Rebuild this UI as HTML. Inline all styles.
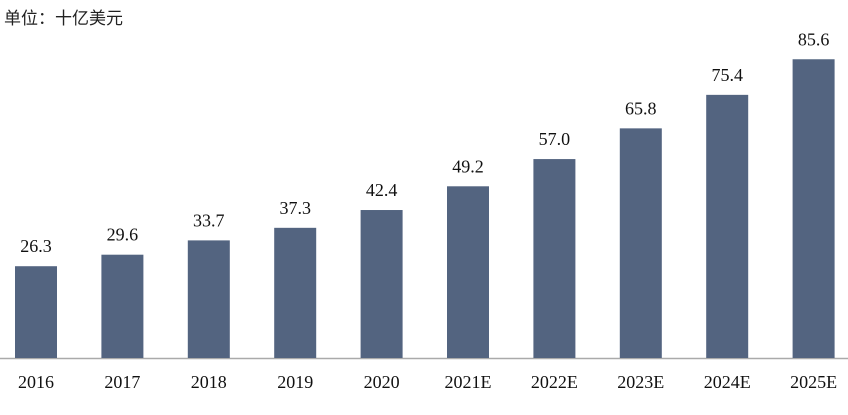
<!DOCTYPE html>
<html><head><meta charset="utf-8"><style>
body{margin:0;background:#fff;}
</style></head><body>
<svg width="848" height="415" xmlns="http://www.w3.org/2000/svg" style="display:block">
<text x="4" y="24" font-family="'Liberation Sans','Noto Sans CJK SC',sans-serif" font-size="17" fill="#222">单位：十亿美元</text>
<line x1="0" y1="358.5" x2="848" y2="358.5" stroke="#aaa" stroke-width="1.5"/>
<g fill="#536480" id="bars"></g>
<g font-family="'Liberation Serif',serif" font-size="18" fill="#111" text-anchor="middle" id="txt"></g>
</svg>
<script>
var v=[26.3,29.6,33.7,37.3,42.4,49.2,57.0,65.8,75.4,85.6];
var l=["2016","2017","2018","2019","2020","2021E","2022E","2023E","2024E","2025E"];
var b=document.getElementById("bars"),t=document.getElementById("txt"),ns="http://www.w3.org/2000/svg";
for(var i=0;i<10;i++){var x=15+i*86.4,h=v[i]*3.49,y=358-h;
var r=document.createElementNS(ns,"rect");r.setAttribute("x",x);r.setAttribute("y",y);r.setAttribute("width",42);r.setAttribute("height",h);b.appendChild(r);
var a=document.createElementNS(ns,"text");a.setAttribute("x",x+21);a.setAttribute("y",y-14);a.textContent=v[i].toFixed(1);t.appendChild(a);
var c=document.createElementNS(ns,"text");c.setAttribute("x",x+21);c.setAttribute("y",388);c.textContent=l[i];t.appendChild(c);}
</script>
</body></html>
